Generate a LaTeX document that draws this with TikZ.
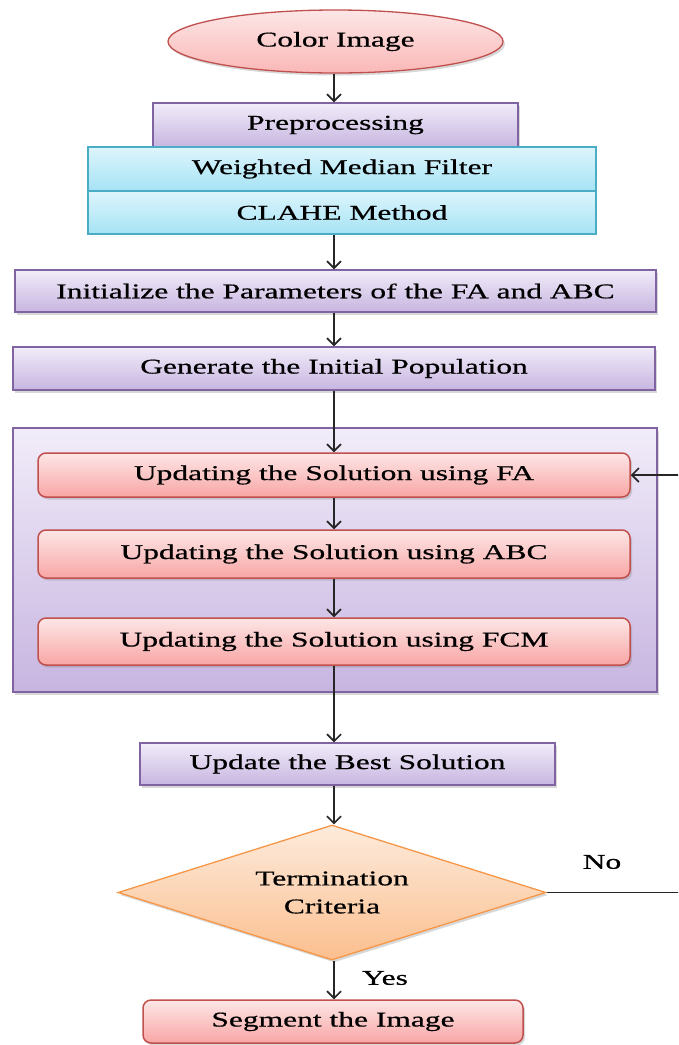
\documentclass[tikz,border=0pt]{standalone}
\usepackage{fontspec}
\setmainfont{Liberation Serif}[FakeStretch=1.5,FakeBold=0.6]
\usetikzlibrary{shapes.geometric,shadows,arrows.meta}
\definecolor{linepurple}{HTML}{8064A2}
\definecolor{purpletop}{HTML}{F1ECF9}
\definecolor{purplebot}{HTML}{C7B5E0}
\definecolor{linecyan}{HTML}{4BACC6}
\definecolor{cyantop}{HTML}{DDF5FC}
\definecolor{cyanbot}{HTML}{A6E3F5}
\definecolor{linered}{HTML}{C0504D}
\definecolor{redtop}{HTML}{FDE6E6}
\definecolor{redbot}{HTML}{F8A6A5}
\definecolor{lineorange}{HTML}{F79646}
\definecolor{orangetop}{HTML}{FDEBDC}
\definecolor{orangebot}{HTML}{FBBF8F}
\tikzset{
	flowline/.style={line width=1.8pt, draw=black!85},
	flowarrow/.style={flowline, -{Straight Barb[length=7pt,width=14pt,line width=1.6pt]}},
	boxshadow/.style={drop shadow={opacity=.3, shadow xshift=2pt, shadow yshift=-2.5pt}},
	purplebox/.style={draw=linepurple, line width=1.5pt, top color=purpletop, bottom color=purplebot, inner sep=0pt, boxshadow},
	cyanbox/.style={draw=linecyan, line width=1.5pt, top color=cyantop, bottom color=cyanbot, inner sep=0pt},
	redbox/.style={draw=linered, line width=1.5pt, top color=redtop, bottom color=redbot, rounded corners=8pt, inner sep=0pt, boxshadow},
	startshape/.style={ellipse, draw=linered, line width=1.3pt, top color=redtop, bottom color=redbot!80, inner sep=0pt, boxshadow},
	decision/.style={diamond, aspect=3, draw=lineorange, line width=1.3pt, top color=orangetop, bottom color=orangebot, inner sep=0pt, align=center, boxshadow},
}

\begin{document}
\begin{tikzpicture}[x=1pt, y=-1pt, font=\fontsize{21}{28}\selectfont]
	\clip (0,0) rectangle (678,1045);
	\fill[white] (0,0) rectangle (678,1045);
	\coordinate (spine) at (334,0);
	\coordinate (back) at (700,0);

	\node[purplebox, line width=1.8pt, minimum width=644pt, minimum height=264pt] (loopbox) at (335,560) {};

	\node[startshape, minimum width=335pt, minimum height=63pt] (input) at (335.5,41.5) {Color Image};
	\node[purplebox, minimum width=365pt, minimum height=44pt] (prep) at (335.5,125) {Preprocessing};
	\node[cyanbox, minimum width=508pt, minimum height=44pt] (wmf) at (342,169) {Weighted Median Filter};
	\node[cyanbox, minimum width=508pt, minimum height=43pt] (clahe) at (342,212.5) {CLAHE Method};
	\node[purplebox, minimum width=641pt, minimum height=42pt] (init) at (335.5,291) {Initialize the Parameters of the FA and ABC};
	\node[purplebox, minimum width=642pt, minimum height=43pt] (gen) at (334,368.5) {Generate the Initial Population};
	\node[redbox, minimum width=592pt, minimum height=44pt] (fa) at (334,475) {Updating the Solution using FA};
	\node[redbox, minimum width=592pt, minimum height=48pt] (abc) at (334,554) {Updating the Solution using ABC};
	\node[redbox, minimum width=592pt, minimum height=47pt] (fcm) at (334,641.5) {Updating the Solution using FCM};
	\node[purplebox, minimum width=415pt, minimum height=42pt] (best) at (347.5,764) {Update the Best Solution};
	\node[decision, minimum width=428pt, minimum height=135pt] (crit) at (332,892.5) {Termination\\Criteria};
	\node[redbox, minimum width=380pt, minimum height=43pt] (seg) at (333,1021.5) {Segment the Image};

	\draw[flowarrow] (input.south -| spine) -- (prep.north -| spine);
	\draw[flowarrow] (clahe.south -| spine) -- (init.north -| spine);
	\draw[flowarrow] (init.south -| spine) -- (gen.north -| spine);
	\draw[flowarrow] (gen.south -| spine) -- (fa.north -| spine);
	\draw[flowarrow] (fa.south -| spine) -- (abc.north -| spine);
	\draw[flowarrow] (abc.south -| spine) -- (fcm.north -| spine);
	\draw[flowarrow] (fcm.south -| spine) -- (best.north -| spine);
	\draw[flowarrow] (best.south -| spine) -- (crit.north -| spine);
	\draw[flowarrow] (crit.south -| spine) -- (seg.north -| spine);
	\draw[flowarrow] (crit.east) -- (crit.east -| back) -- (back |- fa.east) -- (fa.east);

	\node (yes) at (385,978) {Yes};
	\node (no) at (602,862) {No};
\end{tikzpicture}
\end{document}
